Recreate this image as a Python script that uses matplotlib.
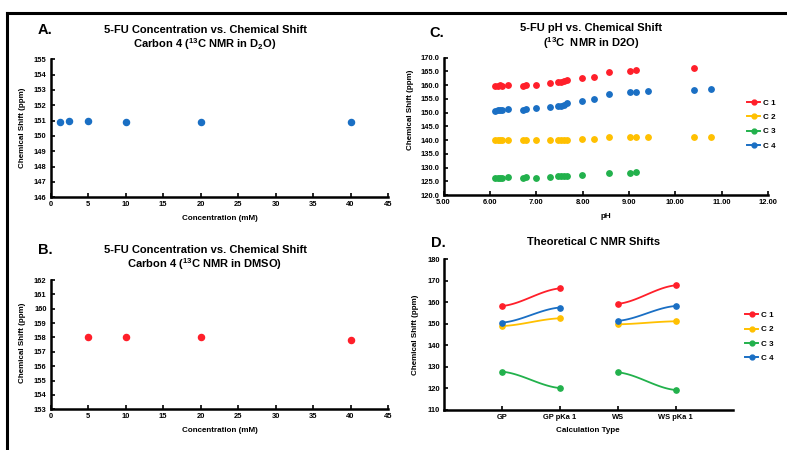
import numpy as np
import matplotlib
from matplotlib import pyplot as plt
from matplotlib.lines import Line2D
plt.switch_backend('agg')

plt.rcParams['font.family'] = ['Liberation Sans', 'DejaVu Sans']
plt.rcParams['font.weight'] = 'bold'
plt.rcParams['mathtext.fontset'] = 'custom'
plt.rcParams['mathtext.rm'] = 'Liberation Sans:bold'
plt.rcParams['mathtext.it'] = 'Liberation Sans:bold'
plt.rcParams['mathtext.bf'] = 'Liberation Sans:bold'
plt.rcParams['mathtext.default'] = 'rm'

RED = '#FF1F2A'
YEL = '#FFC000'
GRN = '#22B14C'
BLU = '#1A6FC4'

# panel A: D2O concentration series (carbon 4)
conc_a = [1.25, 2.5, 5, 10, 20, 40]
shift_a = [150.9, 151.0, 151.0, 150.9, 150.9, 150.9]

# panel B: DMSO concentration series (carbon 4)
conc_b = [5, 10, 20, 40]
shift_b = [158.0, 158.0, 158.0, 157.85]

# panel C: pH titration
ph_all = [6.12, 6.17, 6.21, 6.27, 6.40, 6.72, 6.78, 7.00, 7.30, 7.47, 7.53,
          7.60, 7.67, 7.98, 8.24, 8.58, 9.03, 9.15, 9.42, 10.41, 10.77]
ph_c1 = [6.12, 6.17, 6.21, 6.27, 6.40, 6.72, 6.78, 7.00, 7.30, 7.47, 7.53,
         7.60, 7.67, 7.98, 8.24, 8.58, 9.03, 9.15, 10.41]
c1 = [159.7, 159.8, 159.9, 159.7, 160.0, 159.7, 160.2, 160.2, 160.8, 161.0,
      161.1, 161.4, 162.0, 162.6, 163.1, 164.8, 165.3, 165.5, 166.1]
c2 = [140.0, 140.0, 140.1, 140.0, 140.2, 140.0, 140.1, 140.0, 140.1, 140.2,
      140.2, 140.2, 140.2, 140.4, 140.4, 141.0, 141.0, 141.0, 141.0, 141.2, 141.2]
ph_c3 = [6.12, 6.17, 6.21, 6.27, 6.40, 6.72, 6.78, 7.00, 7.30, 7.47, 7.53,
         7.60, 7.67, 7.98, 8.58, 9.03, 9.15]
c3 = [126.1, 126.2, 126.3, 126.2, 126.4, 126.2, 126.4, 126.1, 126.7, 126.8,
      126.8, 126.8, 126.9, 127.2, 128.1, 128.1, 128.4]
c4 = [150.7, 150.8, 150.9, 150.9, 151.3, 150.8, 151.4, 151.6, 152.0, 152.4,
      152.5, 152.9, 153.5, 154.3, 155.0, 156.6, 157.4, 157.6, 158.0, 158.2, 158.5]

# panel D: theoretical shifts
calc_types = ['GP', 'GP pKa 1', 'WS', 'WS pKa 1']
d_c1 = [158.3, 166.5, 159.3, 167.9]
d_c2 = [149.0, 152.6, 149.8, 151.2]
d_c3 = [127.8, 120.2, 127.5, 119.3]
d_c4 = [150.6, 157.6, 151.4, 158.3]

W, H = 787, 450
fig = plt.figure(figsize=(W / 100, H / 100), dpi=100)


def box(l, t, r, b):
    return [l / W, 1 - b / H, (r - l) / W, (b - t) / H]


def ftext(x, y, s, **kw):
    fig.text(x / W, 1 - y / H, s, ha=kw.pop('ha', 'center'),
             va=kw.pop('va', 'center'), **kw)


def style(ax):
    for s in ['top', 'right']:
        ax.spines[s].set_visible(False)
    for s in ['left', 'bottom']:
        ax.spines[s].set_linewidth(1.8)
        ax.spines[s].set_color('black')
    ax.tick_params(direction='in', length=3, width=1.2, labelsize=5.4, pad=3)
    for lab in ax.get_xticklabels() + ax.get_yticklabels():
        lab.set_fontweight('bold')


# figure frame
fig.add_artist(Line2D([7 / W, 1], [1 - 13 / H, 1 - 13 / H], color='black', lw=2.2))
fig.add_artist(Line2D([7 / W, 7 / W], [0, 1 - 13 / H], color='black', lw=2.2))

TS = 8      # title size
PS = 10.5   # panel letter size
LS = 5.8    # axis label size

# A
ax = fig.add_axes(box(50.7, 59.3, 388, 197.3))
ax.plot(conc_a, shift_a, 'o', color=BLU, ms=4.4, ls='none')
ax.set_xlim(0, 45)
ax.set_ylim(146, 155)
ax.set_xticks(range(0, 46, 5))
ax.set_yticks(range(146, 156))
style(ax)
ftext(45, 30, 'A.', fontsize=PS)
ftext(205, 30, '5-FU Concentration vs. Chemical Shift', fontsize=TS)
ftext(205, 44, r'Carbon 4 ($^{13}$C NMR in D$_2$O)', fontsize=TS)
ftext(22.7, 128, 'Chemical Shift (ppm)', fontsize=LS, rotation=90)
ftext(220, 219, 'Concentration (mM)', fontsize=LS)

# B
ax = fig.add_axes(box(50.7, 280, 388, 409.3))
ax.plot(conc_b, shift_b, 'o', color=RED, ms=4.4, ls='none')
ax.set_xlim(0, 45)
ax.set_ylim(153, 162)
ax.set_xticks(range(0, 46, 5))
ax.set_yticks(range(153, 163))
style(ax)
ftext(45, 250, 'B.', fontsize=PS)
ftext(205, 250, '5-FU Concentration vs. Chemical Shift', fontsize=TS)
ftext(205, 264, r'Carbon 4 ($^{13}$C NMR in DMSO)', fontsize=TS)
ftext(22.7, 343, 'Chemical Shift (ppm)', fontsize=LS, rotation=90)
ftext(220, 431, 'Concentration (mM)', fontsize=LS)

# C
ax = fig.add_axes(box(443.5, 57.7, 768, 195))
ax.plot(ph_c1, c1, 'o', color=RED, ms=3.9, ls='none')
ax.plot(ph_all, c2, 'o', color=YEL, ms=3.9, ls='none')
ax.plot(ph_c3, c3, 'o', color=GRN, ms=3.9, ls='none')
ax.plot(ph_all, c4, 'o', color=BLU, ms=3.9, ls='none')
ax.set_xlim(5, 12)
ax.set_ylim(120, 170)
ax.set_xticks(np.arange(5, 12.5, 1))
ax.set_xticklabels(['%.2f' % v for v in np.arange(5, 12.5, 1)])
ax.set_yticks(np.arange(120, 171, 5))
ax.set_yticklabels(['%.1f' % v for v in np.arange(120, 171, 5)])
style(ax)
ftext(436.7, 33, 'C.', fontsize=PS)
ftext(591, 28, '5-FU pH vs. Chemical Shift', fontsize=TS)
ftext(591, 43, r'($^{13}$C  NMR in D2O)', fontsize=TS)
ftext(410, 110, 'Chemical Shift (ppm)', fontsize=LS, rotation=90)
ftext(606, 217, 'pH', fontsize=LS)

handles = [Line2D([], [], color=c, marker='o', ms=3.5, lw=1.4) for c in [RED, YEL, GRN, BLU]]
names = ['C 1', 'C 2', 'C 3', 'C 4']
fig.legend(handles, names, loc='upper left', bbox_to_anchor=(744 / W, 1 - 96 / H),
           frameon=False, fontsize=5.8, handlelength=1.6, handletextpad=0.3,
           labelspacing=0.82, borderaxespad=0)

# D
ax = fig.add_axes(box(444.3, 259.3, 733.3, 410))
xpos = np.arange(1, len(calc_types) + 1)
t = np.linspace(0, 1, 40)
ease = 0.3 * t + 0.7 * (3 * t ** 2 - 2 * t ** 3)
for vals, col in [(d_c1, RED), (d_c2, YEL), (d_c3, GRN), (d_c4, BLU)]:
    for i in (0, 2):
        xs = xpos[i] + (xpos[i + 1] - xpos[i]) * t
        ys = vals[i] + (vals[i + 1] - vals[i]) * ease
        ax.plot(xs, ys, color=col, lw=1.3)
    ax.plot(xpos, vals, 'o', color=col, ms=3.8, ls='none')
ax.set_xlim(0, 5)
ax.set_ylim(110, 180)
ax.set_xticks(xpos)
ax.set_xticklabels(calc_types)
ax.set_yticks(range(110, 181, 10))
style(ax)
ftext(438, 243, 'D.', fontsize=PS)
ftext(594, 241.7, 'Theoretical C NMR Shifts', fontsize=TS)
ftext(415, 335, 'Chemical Shift (ppm)', fontsize=LS, rotation=90)
ftext(588, 431, 'Calculation Type', fontsize=LS)

handles = [Line2D([], [], color=c, marker='o', ms=3.5, lw=1.4) for c in [RED, YEL, GRN, BLU]]
fig.legend(handles, names, loc='upper left', bbox_to_anchor=(742 / W, 1 - 308 / H),
           frameon=False, fontsize=5.8, handlelength=1.6, handletextpad=0.3,
           labelspacing=0.85, borderaxespad=0)

plt.savefig('out.png', dpi=100)
